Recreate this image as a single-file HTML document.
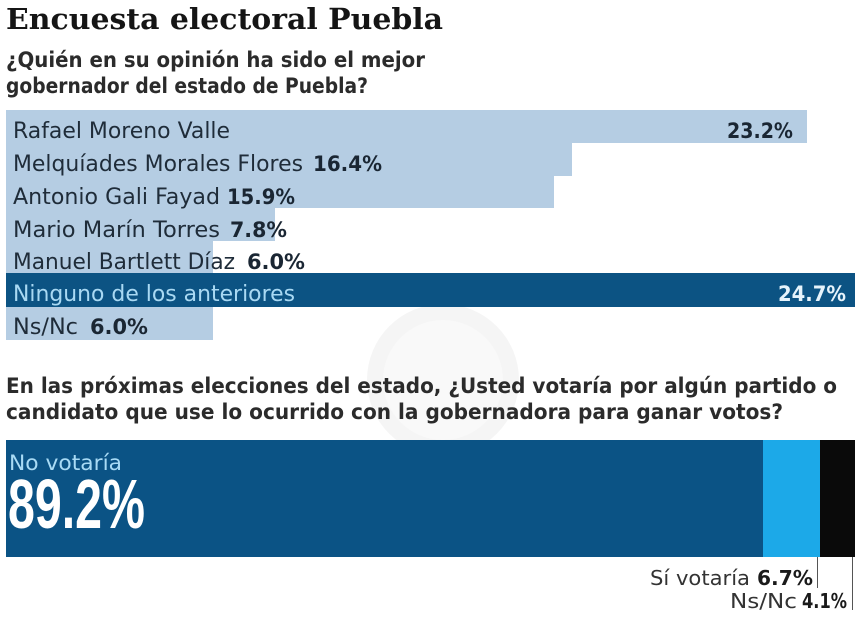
<!DOCTYPE html>
<html>
<head>
<meta charset="utf-8">
<style>
html,body{margin:0;padding:0;background:#fff;}
svg{display:block;}
</style>
</head>
<body>
<svg width="868" height="620" viewBox="0 0 868 620" xmlns="http://www.w3.org/2000/svg">
  <rect x="0" y="0" width="868" height="620" fill="#ffffff"/>
  <!-- faint watermark -->
  <circle cx="443" cy="380" r="76" fill="#f5f5f5"/>
  <circle cx="443" cy="380" r="60" fill="#f9f9f9"/>

  <!-- Title -->
  <text x="6" y="29" font-family="'DejaVu Serif', 'Liberation Serif', serif" font-weight="bold" font-size="29" fill="#151515" textLength="437" lengthAdjust="spacingAndGlyphs">Encuesta electoral Puebla</text>

  <!-- Question 1 -->
  <g font-family="'DejaVu Sans', 'Liberation Sans', sans-serif" font-weight="bold" font-size="21" fill="#2b2b2b">
    <text x="6" y="67" textLength="419" lengthAdjust="spacingAndGlyphs">¿Quién en su opinión ha sido el mejor</text>
    <text x="6" y="93" textLength="362" lengthAdjust="spacingAndGlyphs">gobernador del estado de Puebla?</text>
  </g>

  <!-- Bars chart 1 -->
  <rect x="6" y="110" width="801" height="33" fill="#b5cde3"/>
  <rect x="6" y="143" width="566" height="33" fill="#b5cde3"/>
  <rect x="6" y="176" width="548" height="32" fill="#b5cde3"/>
  <rect x="6" y="208" width="269" height="33" fill="#b5cde3"/>
  <rect x="6" y="241" width="207" height="32" fill="#b5cde3"/>
  <rect x="6" y="273" width="849" height="34" fill="#0c5383"/>
  <rect x="6" y="307" width="207" height="33" fill="#b5cde3"/>

  <g font-family="'DejaVu Sans', 'Liberation Sans', sans-serif" font-size="22" fill="#1f2c39">
    <text x="13" y="138" textLength="217" lengthAdjust="spacingAndGlyphs">Rafael Moreno Valle</text>
    <text x="13" y="171" textLength="290" lengthAdjust="spacingAndGlyphs">Melquíades Morales Flores</text>
    <text x="13" y="204" textLength="207" lengthAdjust="spacingAndGlyphs">Antonio Gali Fayad</text>
    <text x="13" y="237" textLength="207" lengthAdjust="spacingAndGlyphs">Mario Marín Torres</text>
    <text x="13" y="269" textLength="222" lengthAdjust="spacingAndGlyphs">Manuel Bartlett Díaz</text>
    <text x="13" y="301" textLength="282" lengthAdjust="spacingAndGlyphs" fill="#a9d9f3">Ninguno de los anteriores</text>
    <text x="13" y="334" textLength="65" lengthAdjust="spacingAndGlyphs">Ns/Nc</text>
  </g>
  <g font-family="'DejaVu Sans', 'Liberation Sans', sans-serif" font-weight="bold" font-size="21" fill="#1a2633">
    <text x="727" y="138" textLength="66" lengthAdjust="spacingAndGlyphs">23.2%</text>
    <text x="313" y="171" textLength="69" lengthAdjust="spacingAndGlyphs">16.4%</text>
    <text x="227" y="204" textLength="68" lengthAdjust="spacingAndGlyphs">15.9%</text>
    <text x="230" y="237" textLength="57" lengthAdjust="spacingAndGlyphs">7.8%</text>
    <text x="247" y="269" textLength="58" lengthAdjust="spacingAndGlyphs">6.0%</text>
    <text x="778" y="301" textLength="68" lengthAdjust="spacingAndGlyphs" fill="#e6f3fb">24.7%</text>
    <text x="90" y="334" textLength="58" lengthAdjust="spacingAndGlyphs">6.0%</text>
  </g>

  <!-- Question 2 -->
  <g font-family="'DejaVu Sans', 'Liberation Sans', sans-serif" font-weight="bold" font-size="21" fill="#2b2b2b">
    <text x="6" y="393" textLength="831" lengthAdjust="spacingAndGlyphs">En las próximas elecciones del estado, ¿Usted votaría por algún partido o</text>
    <text x="6" y="419" textLength="777" lengthAdjust="spacingAndGlyphs">candidato que use lo ocurrido con la gobernadora para ganar votos?</text>
  </g>

  <!-- Stacked bar -->
  <rect x="6" y="440" width="757" height="117" fill="#0b5385"/>
  <rect x="763" y="440" width="57" height="117" fill="#1ca9e8"/>
  <rect x="820" y="440" width="35" height="117" fill="#0a0a0a"/>

  <text x="9" y="470" font-family="'DejaVu Sans', 'Liberation Sans', sans-serif" font-size="21" fill="#a9dbf5" textLength="113" lengthAdjust="spacingAndGlyphs">No votaría</text>
  <text x="8" y="528" font-family="'Liberation Sans', 'DejaVu Sans', sans-serif" font-weight="bold" font-size="70" fill="#ffffff" textLength="137" lengthAdjust="spacingAndGlyphs">89.2%</text>

  <!-- Leader lines -->
  <line x1="817.5" y1="557" x2="817.5" y2="588" stroke="#555" stroke-width="1"/>
  <line x1="852.5" y1="557" x2="852.5" y2="610" stroke="#555" stroke-width="1"/>

  <g font-family="'DejaVu Sans', 'Liberation Sans', sans-serif" font-size="20" fill="#333">
    <text x="650" y="585" textLength="100" lengthAdjust="spacingAndGlyphs">Sí votaría</text>
    <text x="730" y="608" textLength="67" lengthAdjust="spacingAndGlyphs">Ns/Nc</text>
  </g>
  <g font-family="'DejaVu Sans', 'Liberation Sans', sans-serif" font-weight="bold" font-size="20" fill="#1a1a1a">
    <text x="757" y="585" textLength="56" lengthAdjust="spacingAndGlyphs">6.7%</text>
    <text x="802" y="608" textLength="45" lengthAdjust="spacingAndGlyphs">4.1%</text>
  </g>
</svg>
</body>
</html>
